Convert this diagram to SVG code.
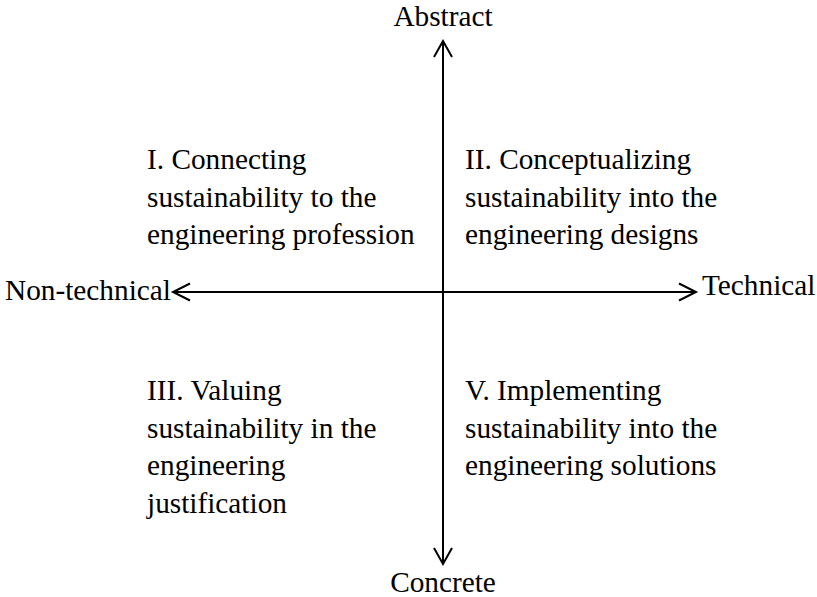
<svg xmlns="http://www.w3.org/2000/svg" width="817" height="597" viewBox="0 0 817 597">
<style>
text{font-family:"Liberation Serif","Times New Roman",serif;font-size:29.3px;fill:#000}
.ax{stroke:#000;stroke-width:2;fill:none}
</style>
<rect width="817" height="597" fill="#fff"/>
<g id="connectors">
<line class="ax" x1="443" y1="42" x2="443" y2="563"/>
<line class="ax" x1="174" y1="292" x2="694" y2="292"/>
<polyline class="ax" points="434,57 443,41 452,57"/>
<polyline class="ax" points="434,548 443,564 452,548"/>
<polyline class="ax" points="190,283.5 173,292 190,300.5"/>
<polyline class="ax" points="679,283.5 696,292 679,300.5"/>
</g>
<g id="abstract"><text x="443" y="26" text-anchor="middle">Abstract</text></g>
<g id="concrete"><text x="443" y="592" text-anchor="middle">Concrete</text></g>
<g id="nontechnical"><text x="5" y="300">Non-technical</text></g>
<g id="technical"><text x="702" y="295">Technical</text></g>
<g id="q1"><text x="147" y="169">I. Connecting</text><text x="147" y="206.5">sustainability to the</text><text x="147" y="244">engineering profession</text></g>
<g id="q2"><text x="465" y="169">II. Conceptualizing</text><text x="465" y="206.5">sustainability into the</text><text x="465" y="244">engineering designs</text></g>
<g id="q3"><text x="147" y="400">III. Valuing</text><text x="147" y="437.5">sustainability in the</text><text x="147" y="475">engineering</text><text x="147" y="512.5">justification</text></g>
<g id="q4"><text x="465" y="400">V. Implementing</text><text x="465" y="437.5">sustainability into the</text><text x="465" y="475">engineering solutions</text></g>
</svg>
